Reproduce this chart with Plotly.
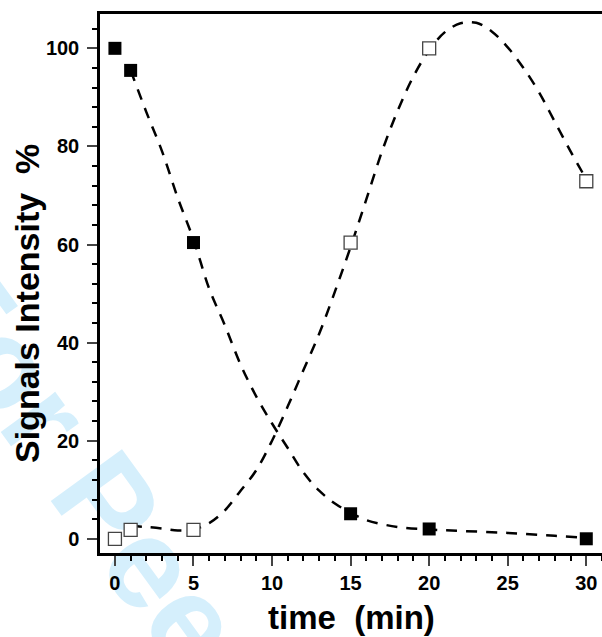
import plotly.graph_objects as go

# measured data points
time_pts = [0, 1, 5, 15, 20, 30]
filled_vals = [100, 95.5, 60.4, 5.1, 2.0, 0.0]
open_vals = [0.0, 1.8, 1.8, 60.4, 100.0, 72.9]

# dashed fitted curves
fitA_x = [1, 2, 3, 4, 5, 6, 7, 8, 9, 10, 11, 12, 13, 14, 15, 16, 18, 20, 22, 25, 28, 30]
fitA_y = [95.5, 87, 79, 69.5, 61, 51, 43.5, 35.5, 29, 23.5, 18.5, 13.5, 9.8, 7.2, 5.3, 3.8, 2.4, 1.9, 1.6, 1.2, 0.6, 0.2]
fitB_x = [1, 2, 3, 4, 5, 6, 7, 8, 9, 10, 11, 12, 13, 14, 15, 16, 17, 18, 19, 20, 21, 22, 23, 24, 25, 26, 27, 28, 29, 30]
fitB_y = [2.6, 2.4, 2.1, 1.7, 1.9, 3.2, 5.8, 9.8, 14, 20, 27, 34.4, 41.8, 50.4, 59.5, 69.2, 79, 87.3, 94.3, 99.6, 103.3, 105.1, 105.2, 103.4, 100.2, 96, 91, 85, 79, 73.3]

x_ticks = [0, 5, 10, 15, 20, 25, 30]
y_ticks = [0, 20, 40, 60, 80, 100]

FONT = "Liberation Sans"
W, H = 602, 637
L, R, T, B = 100, 0, 14, 84
PW, PH = W - L - R, H - T - B


def px(xp):
    return (xp - L) / PW


def py(yp):
    return (H - B - yp) / PH


fig = go.Figure()
dash = "11px,9px"
fig.add_trace(go.Scatter(x=fitA_x, y=fitA_y, mode="lines", line=dict(color="black", width=2.5, dash=dash, shape="spline", smoothing=1.0), hoverinfo="skip"))
fig.add_trace(go.Scatter(x=fitB_x, y=fitB_y, mode="lines", line=dict(color="black", width=2.5, dash=dash, shape="spline", smoothing=1.0), hoverinfo="skip"))
fig.add_trace(go.Scatter(x=time_pts, y=open_vals, mode="markers",
                         marker=dict(symbol="square", size=13, color="white", line=dict(color="#444", width=1.3))))
fig.add_trace(go.Scatter(x=time_pts, y=filled_vals, mode="markers",
                         marker=dict(symbol="square", size=13, color="black", line=dict(width=0))))

# watermark
cx, cy = px(242), py(668)
fig.add_shape(type="rect", xref="paper", yref="paper", x0=cx - 0.01, x1=cx + 0.01, y0=cy - 0.01, y1=cy + 0.01,
              line=dict(width=0), fillcolor="rgba(0,0,0,0)", layer="below",
              label=dict(text="For Peer Review", textangle=54, textposition="middle center",
                         font=dict(size=128, color="#d5effc", family=FONT, weight="bold")))

# axis titles
fig.add_annotation(text="Signals Intensity&nbsp; %", xref="paper", yref="paper", x=px(27), y=py(304),
                   xanchor="center", yanchor="middle", textangle=-90, showarrow=False,
                   font=dict(size=34, family=FONT, weight="bold", color="black"))
fig.add_annotation(text="time&nbsp; (min)", xref="paper", yref="paper", x=px(351), y=py(617),
                   xanchor="center", yanchor="middle", showarrow=False,
                   font=dict(size=33, family=FONT, weight="bold", color="black"))

fig.update_layout(
    width=W, height=H,
    margin=dict(l=L, r=R, t=T, b=B, autoexpand=False),
    paper_bgcolor="white", plot_bgcolor="rgba(0,0,0,0)",
    showlegend=False,
    font=dict(family=FONT, color="black"),
)
fig.update_xaxes(
    range=[-0.95, 31], tickvals=x_ticks, ticks="outside", ticklen=10, tickwidth=2,
    showline=True, linewidth=2.5, linecolor="black", mirror=True, showgrid=False, zeroline=False,
    tickfont=dict(size=20, family=FONT, weight="bold"),
    minor=dict(dtick=1, tick0=0, ticks="outside", ticklen=5, tickwidth=2, tickcolor="black", showgrid=False),
)
fig.update_yaxes(
    range=[-2.9, 107], tickvals=y_ticks, ticks="outside", ticklen=10, tickwidth=2,
    showline=True, linewidth=2.5, linecolor="black", mirror=False, showgrid=False, zeroline=False,
    tickfont=dict(size=20, family=FONT, weight="bold"), ticklabelstandoff=4,
    minor=dict(dtick=4, tick0=0, ticks="outside", ticklen=5, tickwidth=2, tickcolor="black", showgrid=False),
)

fig.write_html("out.html")
